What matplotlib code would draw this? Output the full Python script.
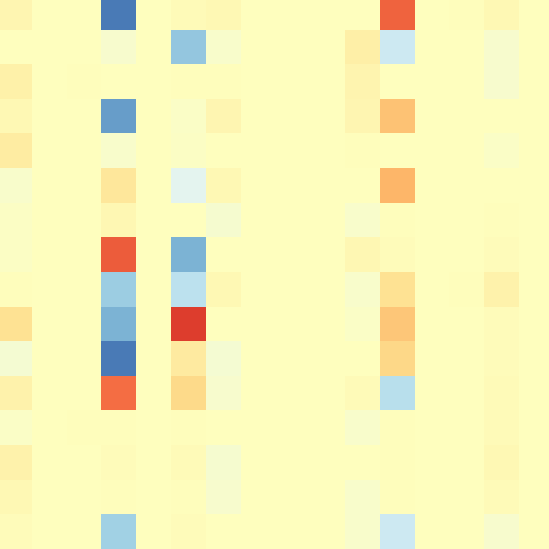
import numpy as np
import matplotlib
matplotlib.use("Agg")
import matplotlib.pyplot as plt

# 16x16 grid of values, one list per row (top to bottom)
r0 = [0.06, 0, 0, -0.78, 0, 0.03, 0.04, 0, 0, 0, 0, 0.63, 0, 0.01, 0.04, 0]
r1 = [0, 0, 0, -0.05, 0, -0.48, -0.04, 0, 0, 0, 0.10, -0.27, 0, 0, -0.05, 0]
r2 = [0.09, 0, 0.01, 0, 0, 0.01, 0.01, 0, 0, 0, 0.07, 0, 0, 0, -0.05, 0]
r3 = [0.04, 0, 0, -0.65, 0, -0.03, 0.06, 0, 0, 0, 0.06, 0.32, 0, 0, 0, 0]
r4 = [0.12, 0, 0, -0.04, 0, -0.02, 0, 0, 0, 0, 0.01, 0, 0, 0, -0.03, 0]
r5 = [-0.04, 0, 0, 0.15, 0, -0.17, 0.04, 0, 0, 0, 0, 0.36, 0, 0, 0, 0]
r6 = [-0.02, 0, 0, 0.05, 0, 0, -0.06, 0, 0, 0, -0.04, 0.01, 0, 0, 0.01, 0]
r7 = [-0.02, 0, 0, 0.65, 0, -0.57, 0, 0, 0, 0, 0.05, 0.02, 0, 0, 0.02, 0]
r8 = [0.01, 0, 0, -0.45, 0, -0.33, 0.04, 0, 0, 0, -0.04, 0.18, 0, 0.01, 0.08, 0]
r9 = [0.18, 0, 0, -0.57, 0, 0.75, 0, 0, 0, 0, -0.03, 0.30, 0, 0, 0.02, 0]
r10 = [-0.07, 0, 0, -0.78, 0, 0.13, -0.07, 0, 0, 0, 0, 0.23, 0, 0, 0.02, 0]
r11 = [0.08, 0, 0, 0.60, 0, 0.22, -0.05, 0, 0, 0, 0.03, -0.35, 0, 0, 0.03, 0]
r12 = [-0.03, 0, 0.01, 0.01, 0, 0.01, 0, 0, 0, 0, -0.04, 0.01, 0, 0, 0.03, 0]
r13 = [0.08, 0, 0, 0.02, 0, 0.03, -0.06, 0, 0, 0, 0, 0.01, 0, 0, 0.04, 0]
r14 = [0.04, 0, 0, 0.01, 0, 0.01, -0.05, 0, 0, 0, -0.04, 0.01, 0, 0, 0.03, 0]
r15 = [0.02, 0, 0, -0.43, 0, 0.02, 0, 0, 0, 0, -0.04, -0.27, 0, 0, -0.05, 0]

data = np.array([r0, r1, r2, r3, r4, r5, r6, r7,
                 r8, r9, r10, r11, r12, r13, r14, r15])

fig = plt.figure(figsize=(5.49, 5.49), dpi=100)
# heatmap is slightly bigger than the canvas, so edges get clipped
ax = fig.add_axes([-2.8 / 549, 0.4 / 549, 556.6 / 549, 553.2 / 549])
ax.imshow(data, cmap="RdYlBu_r", vmin=-1, vmax=1,
          interpolation="nearest", aspect="auto")
ax.set_axis_off()

fig.savefig("out.png", dpi=100)
